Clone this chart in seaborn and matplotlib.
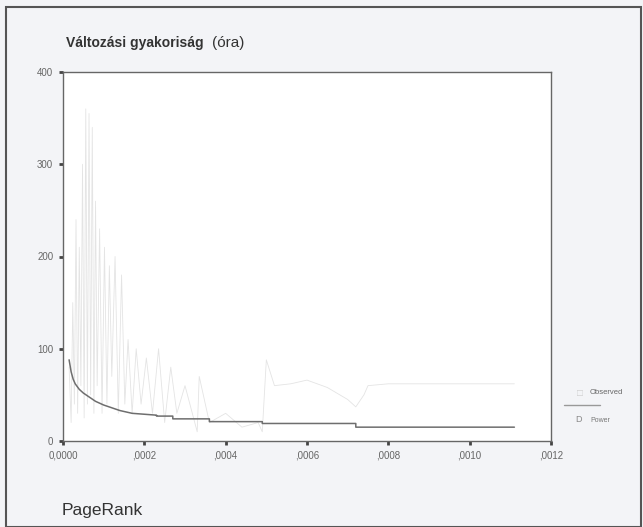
import matplotlib
matplotlib.use("Agg")
import matplotlib.pyplot as plt
import seaborn as sns
import pandas as pd
from matplotlib.patches import Rectangle
from matplotlib.lines import Line2D

sns.set_theme(style="white")
plt.rcParams['font.family'] = ['Liberation Sans', 'DejaVu Sans']

# Observed series (faint spiky line)
obs_x = [0.000015, 0.000020, 0.000024, 0.000028, 0.000032, 0.000036, 0.000040,
         0.000044, 0.000048, 0.000052, 0.000056, 0.000060, 0.000064, 0.000068,
         0.000072, 0.000076, 0.000080, 0.000084, 0.000090, 0.000096, 0.000102,
         0.000108, 0.000114, 0.000120, 0.000128, 0.000136, 0.000144, 0.000152,
         0.000160, 0.000170, 0.000180, 0.000192, 0.000205, 0.000220, 0.000235,
         0.000250, 0.000265, 0.000280, 0.000300, 0.000330, 0.000335, 0.000360,
         0.000400, 0.000440, 0.000480, 0.000490, 0.000500, 0.000520, 0.000560,
         0.000600, 0.000650, 0.000700, 0.000720, 0.000740, 0.000750, 0.000800,
         0.000900, 0.001000, 0.001110]
obs_y = [80, 20, 150, 40, 240, 30, 210, 60, 300, 25, 360, 40, 355, 50,
         340, 30, 260, 60, 230, 30, 210, 40, 190, 70, 200, 30, 180, 40,
         110, 30, 100, 40, 90, 30, 100, 20, 80, 30, 60, 10, 70, 20,
         30, 15, 20, 10, 88, 60, 62, 66, 58, 45, 37, 50, 60, 62,
         62, 62, 62]

# Fitted power curve (stepped appearance)
pow_x = [0.000015, 0.000020, 0.000025, 0.000030, 0.000040, 0.000050, 0.000060,
         0.000070, 0.000080, 0.000090, 0.000100, 0.000120, 0.000140, 0.000170,
         0.000200, 0.000230, 0.000230, 0.000270, 0.000270, 0.000360, 0.000360,
         0.000490, 0.000490, 0.000720, 0.000720, 0.001110]
pow_y = [88, 75, 67, 62, 56, 52, 49, 46, 43, 41, 39, 36, 33, 30, 29, 28,
         27, 27, 24, 24, 21, 21, 19, 19, 15, 15]

x_ticks = [0.0, 0.0002, 0.0004, 0.0006, 0.0008, 0.0010, 0.0012]
x_tick_labels = ["0,0000", ",0002", ",0004", ",0006", ",0008", ",0010", ",0012"]
y_ticks = [0, 100, 200, 300, 400]

df_obs = pd.DataFrame({"x": obs_x, "y": obs_y})
df_pow = pd.DataFrame({"x": pow_x, "y": pow_y})

W, H = 643, 527
fig = plt.figure(figsize=(W / 100, H / 100), dpi=100)
fig.patch.set_facecolor("#f3f4f7")

# outer frame
fig.add_artist(Rectangle((6 / W, 0), (W - 8) / W, (H - 7) / H, transform=fig.transFigure,
                         fill=False, edgecolor="#555555", linewidth=1.5))

ax = fig.add_axes([63 / W, (H - 441) / H, (551 - 63) / W, (441 - 72) / H])
ax.set_facecolor("white")

sns.lineplot(data=df_obs, x="x", y="y", ax=ax, color="#e4e4e4", linewidth=0.6,
             estimator=None, sort=False)
sns.lineplot(data=df_pow, x="x", y="y", ax=ax, color="#6e6e6e", linewidth=1.1,
             estimator=None, sort=False)

ax.set_xlim(0, 0.0012)
ax.set_ylim(0, 400)
ax.set_xticks(x_ticks)
ax.set_xticklabels(x_tick_labels)
ax.set_yticks(y_ticks)
ax.set_xlabel("")
ax.set_ylabel("")
for s in ax.spines.values():
    s.set_visible(True)
    s.set_color("#666666")
    s.set_linewidth(1.0)
ax.tick_params(axis="both", which="both", direction="out", length=3, width=2,
               color="#444444", labelsize=7, labelcolor="#666666", pad=4,
               bottom=True, left=True)

# title texts
t1 = fig.text(66 / W, 1 - 43 / H, "Változási gyakoriság",
              fontsize=10, fontweight="bold", color="#333333", va="center", ha="left")
fig.canvas.draw()
ext = t1.get_window_extent(renderer=fig.canvas.get_renderer())
fig.text((ext.x1 + 8) / W, 1 - 43 / H, "(óra)", fontsize=11, color="#333333",
         va="center", ha="left")
fig.text(62 / W, 1 - 510 / H, "PageRank", fontsize=12.5, color="#333333",
         va="center", ha="left")

# legend (drawn manually in figure space)
fig.text(580 / W, 1 - 393 / H, "□", fontsize=7, color="#cccccc", va="center", ha="center")
fig.text(590 / W, 1 - 393 / H, "Observed", fontsize=5.5, color="#666666", va="center", ha="left")
fig.add_artist(Line2D([564 / W, 600 / W], [1 - 405 / H, 1 - 405 / H], transform=fig.transFigure,
                      color="#999999", linewidth=1.0))
fig.text(578 / W, 1 - 420 / H, "D", fontsize=6.5, color="#888888", va="center", ha="center")
fig.text(590 / W, 1 - 421 / H, "Power", fontsize=5, color="#777777", va="center", ha="left")

fig.savefig("out.png", dpi=100, facecolor=fig.get_facecolor())
